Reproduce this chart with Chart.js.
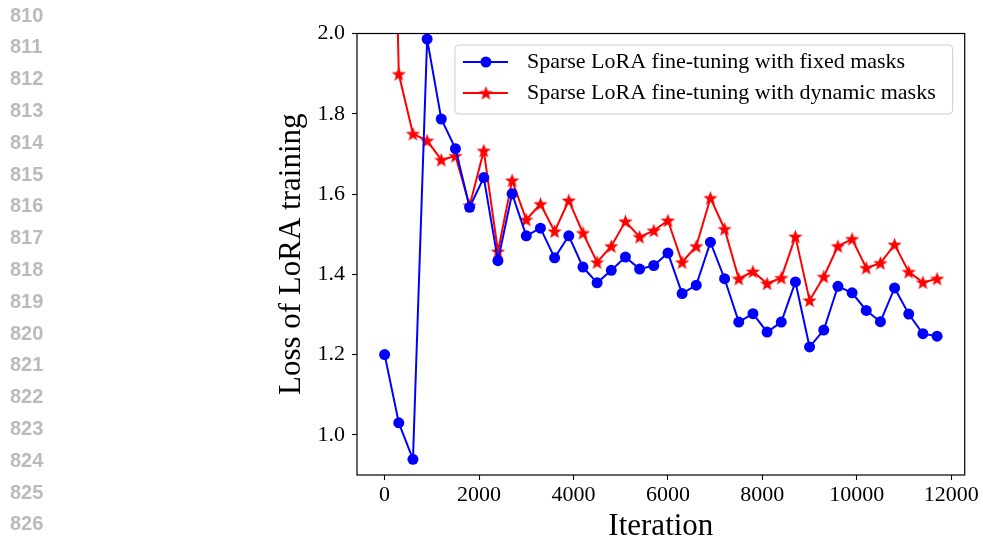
<!DOCTYPE html>
<html>
<head>
<meta charset="utf-8">
<script src="https://cdn.jsdelivr.net/npm/chart.js@4.4.0/dist/chart.umd.min.js"></script>
<style>
  html, body { margin: 0; padding: 0; background: #fff; }
  #wrap { position: relative; width: 983px; height: 539px; overflow: hidden; }
  #lossChart { position: absolute; left: 0; top: 0; }
  .lineno { position: absolute; left: 10px; font: bold 20px "Liberation Sans", Arial, sans-serif; color: #bbbbbb; line-height: 20px; }
</style>
</head>
<body>
<div id="wrap">
  <canvas id="lossChart" width="983" height="539"></canvas>
</div>
<script>
const lineNumbers = ['810', '811', '812', '813', '814', '815', '816', '817', '818', '819', '820', '821', '822', '823', '824', '825', '826']

const iterations = [0, 300, 600, 900, 1200, 1500, 1800, 2100, 2400, 2700,
    3000, 3300, 3600, 3900, 4200, 4500, 4800, 5100, 5400, 5700,
    6000, 6300, 6600, 6900, 7200, 7500, 7800, 8100, 8400, 8700,
    9000, 9300, 9600, 9900, 10200, 10500, 10800, 11100, 11400, 11700]

const fixedMaskLoss = [1.200, 1.030, 0.939, 1.986, 1.787, 1.713, 1.567, 1.641, 1.434, 1.601,
    1.496, 1.515, 1.441, 1.496, 1.418, 1.379, 1.410, 1.443, 1.413, 1.422,
    1.453, 1.352, 1.373, 1.480, 1.389, 1.281, 1.302, 1.256, 1.281, 1.381,
    1.219, 1.261, 1.370, 1.354, 1.310, 1.282, 1.366, 1.301, 1.252, 1.246]

const dynamicMaskLoss = [3.500, 1.899, 1.750, 1.733, 1.685, 1.695, 1.571, 1.708, 1.457, 1.634,
    1.536, 1.575, 1.507, 1.584, 1.503, 1.430, 1.470, 1.532, 1.493, 1.509,
    1.534, 1.430, 1.470, 1.590, 1.513, 1.389, 1.407, 1.377, 1.391, 1.494,
    1.335, 1.394, 1.470, 1.488, 1.416, 1.428, 1.474, 1.406, 1.380, 1.389]

const seriesLabels = ['Sparse LoRA fine-tuning with fixed masks', 'Sparse LoRA fine-tuning with dynamic masks']
const xTicks = [0, 2000, 4000, 6000, 8000, 10000, 12000]
const yTicks = [1.0, 1.2, 1.4, 1.6, 1.8, 2.0]

const serif = '"Liberation Serif", "Times New Roman", serif'
const blue = '#0000ff'
const red = '#ff0000'

var wrap = document.getElementById('wrap')
lineNumbers.forEach((n, i) => {
    var d = document.createElement('div')
    d.className = 'lineno'
    d.textContent = n
    d.style.top = (4.5 + i * 31.8) + 'px'
    wrap.appendChild(d)
})

function makeStar(size, color) {
    var c = document.createElement('canvas')
    c.width = size
    c.height = size
    var g = c.getContext('2d')
    var cx = size / 2, cy = size / 2 + 0.6
    var ro = size / 2, ri = ro * 0.42
    g.beginPath()
    for (var k = 0; k < 10; k++) {
        var r = k % 2 === 0 ? ro : ri
        var a = -Math.PI / 2 + k * Math.PI / 5
        var px = cx + r * Math.cos(a), py = cy + r * Math.sin(a)
        if (k === 0) g.moveTo(px, py)
        else g.lineTo(px, py)
    }
    g.closePath()
    g.fillStyle = color
    g.fill()
    return c
}
var starImg = makeStar(15, red)

const frame = {
    id: 'frame',
    afterDatasetsDraw(chart) {
        var a = chart.chartArea, ctx = chart.ctx
        ctx.save()
        ctx.strokeStyle = '#000'
        ctx.lineWidth = 1.2
        ctx.strokeRect(a.left, a.top, a.right - a.left, a.bottom - a.top)
        ctx.restore()
    }
}

const maskLegend = {
    id: 'maskLegend',
    afterDraw(chart) {
        var a = chart.chartArea, ctx = chart.ctx
        ctx.save()
        ctx.font = '22px ' + serif
        var textW = Math.max(...seriesLabels.map(t => ctx.measureText(t).width))
        var right = a.right - 12
        var top = a.top + 11.5
        var left = right - (72 + textW + 17)
        var h = 69
        ctx.beginPath()
        ctx.roundRect(left, top, right - left, h, 4)
        ctx.fillStyle = 'rgba(255,255,255,0.8)'
        ctx.fill()
        ctx.strokeStyle = '#cccccc'
        ctx.lineWidth = 1
        ctx.stroke()

        var rows = [top + 17, top + 48]
        var colors = [blue, red]
        rows.forEach((y, i) => {
            ctx.beginPath()
            ctx.moveTo(left + 8, y)
            ctx.lineTo(left + 53, y)
            ctx.strokeStyle = colors[i]
            ctx.lineWidth = 2
            ctx.stroke()
            var mx = left + 31
            if (i === 0) {
                ctx.beginPath()
                ctx.arc(mx, y, 5.5, 0, Math.PI * 2)
                ctx.fillStyle = blue
                ctx.fill()
            } else {
                ctx.drawImage(starImg, mx - starImg.width / 2, y - starImg.height / 2)
            }
            ctx.fillStyle = '#000'
            ctx.textBaseline = 'middle'
            ctx.textAlign = 'left'
            ctx.fillText(seriesLabels[i], left + 72, y)
        })
        ctx.restore()
    }
}

var ctx = document.getElementById('lossChart')
var myLossChart = new Chart(ctx, {
    type: 'line',
    data: {
        datasets: [{
            label: seriesLabels[0],
            data: iterations.map((x, i) => ({ x: x, y: fixedMaskLoss[i] })),
            borderColor: blue,
            backgroundColor: blue,
            borderWidth: 2,
            pointStyle: 'circle',
            pointRadius: 5.5,
            pointBorderWidth: 0,
            tension: 0
        },
        {
            label: seriesLabels[1],
            data: iterations.map((x, i) => ({ x: x, y: dynamicMaskLoss[i] })),
            borderColor: red,
            backgroundColor: red,
            borderWidth: 2,
            pointStyle: starImg,
            pointRadius: 7,
            tension: 0
        }]
    },
    options: {
        responsive: false,
        devicePixelRatio: 1,
        animation: false,
        events: [],
        layout: { padding: { left: 270, right: 18.3, top: 33.5, bottom: 0 } },
        plugins: {
            legend: { display: false },
            tooltip: { enabled: false },
            title: { display: false }
        },
        scales: {
            x: {
                type: 'linear',
                min: -585,
                max: 12285,
                afterBuildTicks: (s) => { s.ticks = xTicks.map(v => ({ value: v })) },
                afterFit: (s) => { s.height = 64 },
                grid: { drawOnChartArea: false, drawTicks: true, tickLength: 5, tickColor: '#000', tickWidth: 1.1 },
                border: { display: false },
                ticks: { color: '#000', padding: 2, maxRotation: 0, font: { family: serif, size: 22 }, callback: (v) => String(v) },
                title: { display: true, text: 'Iteration', color: '#000', padding: 0, font: { family: serif, size: 31, lineHeight: 0.78 } }
            },
            y: {
                type: 'linear',
                min: 0.9,
                max: 2.0,
                afterBuildTicks: (s) => { s.ticks = yTicks.map(v => ({ value: v })) },
                afterFit: (s) => { s.width = 87 },
                grid: { drawOnChartArea: false, drawTicks: true, tickLength: 5, tickColor: '#000', tickWidth: 1.1 },
                border: { display: false },
                ticks: { color: '#000', padding: 7, font: { family: serif, size: 22 }, callback: (v) => v.toFixed(1) },
                title: { display: true, text: 'Loss of LoRA training', color: '#000', padding: { top: 3, bottom: 0 }, font: { family: serif, size: 31, lineHeight: 1.2 } }
            }
        }
    },
    plugins: [frame, maskLegend]
})
</script>
</body>
</html>
